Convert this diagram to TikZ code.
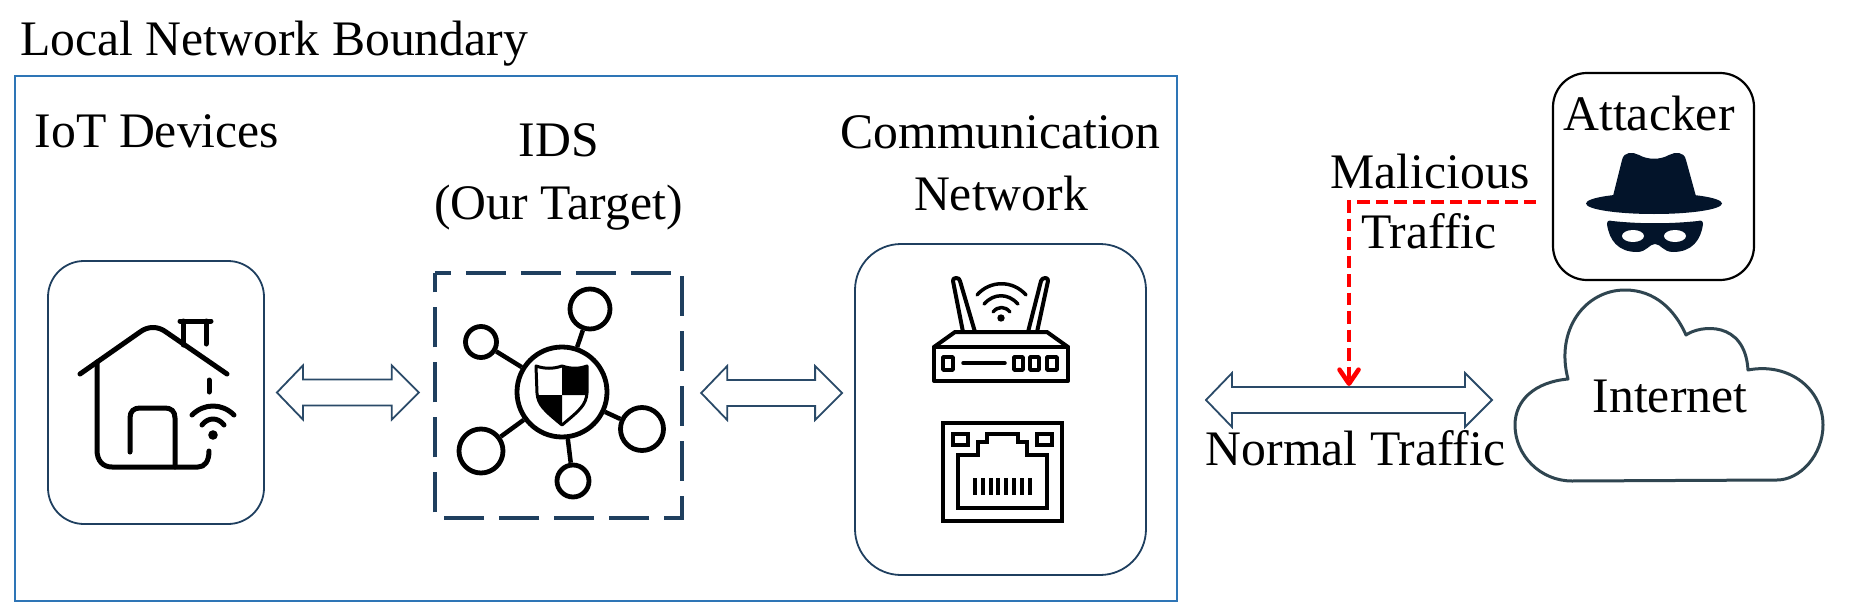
\documentclass[tikz,border=0pt]{standalone}
\usepackage{fontspec}
\setmainfont{Liberation Serif}
\usetikzlibrary{calc,arrows.meta}
\definecolor{frameblue}{HTML}{2E75B6}
\definecolor{navy}{HTML}{1F3F5F}
\definecolor{arrownavy}{HTML}{2A4A68}
\definecolor{hatcol}{HTML}{03142A}
\definecolor{cloudcol}{HTML}{2F4550}
\tikzset{
  lbl/.style={anchor=base,inner sep=0pt,font=\fontsize{49.7}{56}\selectfont,text=black},
  roundbox/.style={draw=navy,line width=1.8pt,inner sep=0pt,rounded corners=#1},
  ico/.style={draw=black,line width=5pt,line cap=round,line join=round},
  icosq/.style={draw=black,line width=4.8pt,line join=miter},
  netnode/.style={circle,draw=black,line width=4.8pt,fill=white,inner sep=0pt,minimum size=#1},
  hollowarrow/.style={draw=arrownavy,line width=1.8pt,fill=white,line join=miter,
    to path={let \p1=(\tikztostart),\p2=(\tikztotarget) in
      (\x1,\y1) -- (\x1+26pt,\y1+27pt) -- (\x1+26pt,\y1+13pt) -- (\x2-27pt,\y1+13pt) --
      (\x2-27pt,\y1+27pt) -- (\x2,\y1) -- (\x2-27pt,\y1-27pt) -- (\x2-27pt,\y1-13pt) --
      (\x1+26pt,\y1-13pt) -- (\x1+26pt,\y1-27pt) -- cycle}},
  redarrow/.style={draw=red,line width=4.6pt,dash pattern=on 12.5pt off 6pt,
    -{Straight Barb[length=14pt,width=19pt,line width=4.6pt,round]}},
}
\begin{document}
\begin{tikzpicture}[x=1pt,y=-1pt]
\useasboundingbox (0,0) rectangle (1875,602);
% frame
\node[draw=frameblue,line width=2.4pt,inner sep=0pt,minimum width=1162pt,minimum height=525pt] (frame) at (596,338.5) {};
\node[lbl,anchor=base west] (title) at (20,55.5) {Local Network Boundary};
% boxes
\node[roundbox=36pt,minimum width=216pt,minimum height=263pt] (iot) at (156,392.5) {};
\node[inner sep=0pt,minimum width=247pt,minimum height=245pt] (ids) at (558.5,395.5) {};
\draw[navy,line width=4.5pt,dash pattern=on 40pt off 15pt,dash phase=24pt]
  (ids.north west) -- (ids.north east) -- (ids.south east) -- (ids.south west) -- cycle;
\node[roundbox=46pt,minimum width=291pt,minimum height=331pt] (comm) at (1000.5,409.5) {};
\node[draw=black,line width=2.2pt,inner sep=0pt,rounded corners=34pt,minimum width=201pt,minimum height=207pt] (attacker) at (1653.5,176.5) {};
% labels
\node[lbl] (liot) at (157,147.5) {IoT Devices};
\node[lbl] (lids) at (559,156.5) {IDS};
\node[lbl] (ltarget) at (558.5,219) {(Our Target)};
\node[lbl] (lcomm) at (1000.5,148) {Communication};
\node[lbl] (lnet) at (1001,210) {Network};
\node[lbl] (latt) at (1649,130) {Attacker};
\node[lbl] (lmal) at (1430,188) {Malicious};
\node[lbl] (ltra) at (1429,248) {Traffic};
\node[lbl] (lnorm) at (1355.5,465) {Normal Traffic};
% hollow arrows
\path[hollowarrow] ([xshift=12pt]iot.east) to ([xshift=-16pt,yshift=2.5pt]ids.west);
\path[hollowarrow] ([xshift=19pt,yshift=2.5pt]ids.east) to ([xshift=-12pt]comm.west);
\coordinate (nl) at (1206,400);
\coordinate (nr) at (1492,400);
\path[hollowarrow] (nl) to (nr);
% red connector
\coordinate (redstart) at (1536,202);
\coordinate (redend) at (1349,386);
\draw[redarrow] (redstart) -| (redend);
% house
\draw[ico] (80,374) -- (140,332) .. controls (148,326) and (158,326) .. (166,332) -- (227,374);
\draw[ico] (180,321) -- (211,321);
\draw[ico] (183,321) -- (183,345);
\draw[ico] (206,321) -- (206,344);
\draw[ico] (97,362) -- (97,450) .. controls (97,461) and (103,467) .. (112,467) -- (198,467) .. controls (205,467) and (209,461) .. (209,451);
\draw[ico] (130,452) -- (130,418) .. controls (130,411) and (134,408) .. (140,408) -- (165,408) .. controls (171,408) and (175,411) .. (175,418) -- (175,467);
\draw[ico] (209,380) -- (209,392);
\fill[black] (213,435) circle (4.8pt);
\draw[ico] (192,415) .. controls (204,403) and (222,403) .. (234,415);
\draw[ico] (202,425) .. controls (208,417) and (218,417) .. (224,425);
% IDS icon
\node[netnode=90pt] (hub) at (562,392) {};
\node[netnode=40pt] (s1) at (590,309) {};
\node[netnode=31pt] (s2) at (481,342) {};
\node[netnode=43pt] (s3) at (642,429) {};
\node[netnode=44pt] (s4) at (481,451) {};
\node[netnode=32pt] (s5) at (573,481) {};
\foreach \s in {s1,s2,s3,s4,s5} \draw[black,line width=4.5pt] (hub) -- (\s);
\draw[black,line width=3pt,line join=round,fill=white] (536,366) .. controls (545,369) and (553,369) .. (562,366) .. controls (571,369) and (579,369) .. (587,366) -- (587,393) .. controls (586,405) and (580,410) .. (562,425) .. controls (544,410) and (538,405) .. (537,393) -- cycle;
\fill[black] (562,366) .. controls (571,369) and (579,369) .. (587,366) -- (587,395) -- (562,395) -- cycle;
\fill[black] (562,395) -- (562,425) .. controls (544,410) and (538,405) .. (537,395) -- cycle;
% router
\draw[ico,line width=4pt] (934,347) -- (955,332) -- (1047,332) -- (1068,347);
\draw[ico,line width=4pt] (934,347) rectangle (1068,381);
\draw[ico,line width=4pt] (963,332) -- (953,281) .. controls (952,277) and (960,277) .. (960,281) -- (975,332);
\draw[ico,line width=4pt] (1028,332) -- (1041,281) .. controls (1042,277) and (1049,277) .. (1048,281) -- (1037,332);
\fill[black] (1001,318) circle (3.7pt);
\draw[ico,line width=3.5pt] (993,312) .. controls (998,306) and (1005,306) .. (1010,312);
\draw[ico,line width=3.5pt] (984,304) .. controls (994,293) and (1008,293) .. (1018,304);
\draw[ico,line width=3.5pt] (977,295) .. controls (990,280) and (1013,280) .. (1026,295);
\draw[ico,line width=3.5pt] (943,357) rectangle (953,370);
\draw[ico,line width=3.5pt] (963,363) -- (1005,363);
\draw[ico,line width=3.5pt] (1014,357) rectangle (1023,370);
\draw[ico,line width=3.5pt] (1030,357) rectangle (1039,370);
\draw[ico,line width=3.5pt] (1047,357) rectangle (1057,370);
% ethernet
\draw[icosq] (943,423) rectangle (1062,521);
\draw[icosq] (958,455) -- (978,455) -- (978,442) -- (987,442) -- (987,434) -- (1018,434) -- (1018,442) -- (1027,442) -- (1027,455) -- (1047,455) -- (1047,508) -- (958,508) -- cycle;
\draw[icosq] (953,434) rectangle (968,445);
\draw[icosq] (1037,434) rectangle (1052,445);
\foreach \p in {975,983,991,998,1006,1014,1022,1030} \fill[black] (\p-2.2,478) rectangle (\p+2.2,495);
% attacker icon
\fill[hatcol] (1654,203.5) ellipse (68pt and 10.5pt);
\fill[hatcol] (1612,200) -- (1622,160) .. controls (1624,151) and (1633,152) .. (1639,155) .. controls (1648,160) and (1660,160) .. (1669,155) .. controls (1675,152) and (1684,151) .. (1686,160) -- (1697,200) -- cycle;
\fill[hatcol] (1607,224) .. controls (1607,221) and (1609,220) .. (1612,221) .. controls (1640,224) and (1670,224) .. (1698,221) .. controls (1701,220) and (1703,221) .. (1703,224) .. controls (1701,240) and (1692,252) .. (1673,252) .. controls (1663,252) and (1661,244) .. (1655,244) .. controls (1649,244) and (1647,252) .. (1637,252) .. controls (1618,252) and (1609,240) .. (1607,224) -- cycle;
\fill[white] (1633,236) ellipse (11pt and 6pt);
\fill[white] (1675,236) ellipse (11pt and 6pt);
% cloud
\draw[cloudcol,line width=3pt,line join=round] (1568,379) .. controls (1555,330) and (1585,290) .. (1625,290) .. controls (1655,290) and (1675,310) .. (1686,335) .. controls (1700,325) and (1745,320) .. (1748,370) .. controls (1790,362) and (1823,390) .. (1823,425) .. controls (1823,455) and (1800,480) .. (1777,480) -- (1572,481) .. controls (1540,481) and (1515,455) .. (1515,425) .. controls (1515,400) and (1535,382) .. (1568,379) -- cycle;
\node[lbl] (internet) at (1670,412.5) {Internet};
\end{tikzpicture}
\end{document}
